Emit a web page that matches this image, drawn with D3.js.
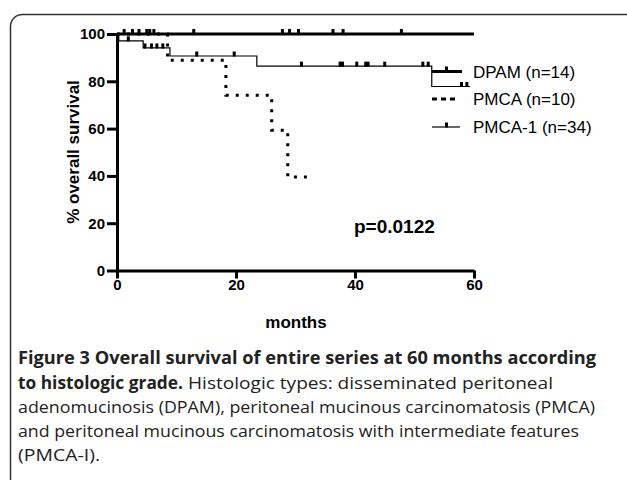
<!DOCTYPE html>
<html><head><meta charset="utf-8">
<script src="https://cdn.jsdelivr.net/npm/d3@7"></script>
<style>body{margin:0;background:#fff}svg{display:block}</style>
</head><body>
<svg id="c" width="627" height="480"></svg>
<script>
// ---- data ----
const xTicks = [0, 20, 40, 60];
const yTicks = [0, 20, 40, 60, 80, 100];
const dpamTimes = [0, 60];
const dpamSurv = [100, 100];
const dpamCensor = [1.2, 2.6, 3.7, 5.0, 5.5, 6.2, 12.9, 27.8, 29.0, 30.5, 36.3, 38.0, 47.8];
const pmcaTimes = [0, 8.5, 18.3, 26.0, 28.7, 32.7];
const pmcaSurv = [100, 88.9, 74.1, 59.3, 39.5, 39.5];
const pmca1Times = [0, 0.3, 4.4, 8.9, 23.5, 52.9, 59.3];
const pmca1Surv = [100, 97.1, 94.1, 90.7, 86.4, 77.8, 77.8];
const pmca1Censor = [1.9, 4.7, 5.8, 6.7, 7.7, 13.4, 19.7, 31.0, 37.5, 37.9, 40.3, 41.8, 42.2, 45.0, 51.4, 52.3, 57.9, 58.8];
const legendLabels = ["DPAM (n=14)", "PMCA (n=10)", "PMCA-1 (n=34)"];
const pValue = "p=0.0122";
const xTitle = "months";
const yTitle = "% overall survival";
const captionBold1 = "Figure 3 Overall survival of entire series at 60 months according";
const captionBold2 = "to histologic grade.";
const captionRest2 = "Histologic types: disseminated peritoneal";
const captionLines = ["adenomucinosis (DPAM), peritoneal mucinous carcinomatosis (PMCA)",
  "and peritoneal mucinous carcinomatosis with intermediate features",
  "(PMCA-I)."];

const svg = d3.select("#c");
// frame
svg.append("rect").attr("x", 10.5).attr("y", 14.5).attr("width", 700).attr("height", 700)
  .attr("rx", 12).attr("fill", "none").attr("stroke", "#333").attr("stroke-width", 1.5);

const x = d3.scaleLinear().domain([0, 60]).range([117, 474]);
const y = d3.scaleLinear().domain([0, 100]).range([270.5, 34]);
const F = "Liberation Sans, Arial, Helvetica, sans-serif";

// axes
const gy = svg.append("g").attr("transform", `translate(${x(0)},0)`)
  .call(d3.axisLeft(y).tickValues(yTicks).tickSize(10).tickSizeOuter(0).tickPadding(2));
const gx = svg.append("g").attr("transform", `translate(0,${y(0)})`)
  .call(d3.axisBottom(x).tickValues(xTicks).tickSize(8).tickSizeOuter(0).tickPadding(1));
[gx, gy].forEach(g => {
  g.selectAll("path,line").attr("stroke", "#000").attr("stroke-width", 3);
  g.selectAll("text").attr("font-family", F).attr("font-weight", "bold").attr("font-size", 15).attr("fill", "#000");
});

const step = d3.line().x(d => x(d[0])).y(d => y(d[1])).curve(d3.curveStepAfter);
const zip = (a, b) => a.map((v, i) => [v, b[i]]);
function survAt(times, surv, t) { let s = surv[0]; for (let i = 0; i < times.length; i++) if (times[i] <= t) s = surv[i]; return s; }

// DPAM
svg.append("path").attr("d", step(zip(dpamTimes, dpamSurv))).attr("fill", "none").attr("stroke", "#000").attr("stroke-width", 3);
svg.selectAll(".cd").data(dpamCensor).enter().append("rect")
  .attr("x", d => x(d) - 1.5).attr("y", d => y(survAt(dpamTimes, dpamSurv, d)) - 5).attr("width", 3).attr("height", 5).attr("fill", "#000");
// PMCA
svg.append("path").attr("d", step(zip(pmcaTimes, pmcaSurv))).attr("fill", "none").attr("stroke", "#000")
  .attr("stroke-width", 3).attr("stroke-dasharray", "3,7");
// PMCA-1
svg.append("path").attr("d", step(zip(pmca1Times, pmca1Surv))).attr("fill", "none").attr("stroke", "#000").attr("stroke-width", 1.2);
svg.selectAll(".c1").data(pmca1Censor).enter().append("rect")
  .attr("x", d => x(d) - 1.5).attr("y", d => y(survAt(pmca1Times, pmca1Surv, d)) - 4.5).attr("width", 3).attr("height", 5).attr("fill", "#000");

// legend
const ly = [71.5, 99, 127];
const lx0 = 432, lx1 = 462;
svg.append("line").attr("x1", lx0).attr("x2", lx1).attr("y1", ly[0]).attr("y2", ly[0]).attr("stroke", "#000").attr("stroke-width", 3);
svg.append("rect").attr("x", 445).attr("y", ly[0] - 5).attr("width", 3).attr("height", 5).attr("fill", "#000");
svg.append("line").attr("x1", lx0).attr("x2", lx1 - 4).attr("y1", ly[1]).attr("y2", ly[1]).attr("stroke", "#000").attr("stroke-width", 3).attr("stroke-dasharray", "5,4");
svg.append("line").attr("x1", lx0).attr("x2", lx1 - 2).attr("y1", ly[2]).attr("y2", ly[2]).attr("stroke", "#000").attr("stroke-width", 1.2);
svg.append("rect").attr("x", 445).attr("y", ly[2] - 4.5).attr("width", 3).attr("height", 5).attr("fill", "#000");
legendLabels.forEach((t, i) => {
  svg.append("text").attr("x", 473).attr("y", ly[i] + 6).attr("font-family", F).attr("font-size", 17).attr("fill", "#000").text(t);
});

// p value
svg.append("text").attr("x", 354).attr("y", 233).attr("font-family", F).attr("font-weight", "bold").attr("font-size", 19).attr("fill", "#000").text(pValue);
// axis titles
svg.append("text").attr("x", 296).attr("y", 328).attr("text-anchor", "middle").attr("font-family", F).attr("font-weight", "bold").attr("font-size", 17).attr("fill", "#000").text(xTitle);
svg.append("text").attr("transform", "translate(79,152) rotate(-90)").attr("text-anchor", "middle").attr("font-family", F).attr("font-weight", "bold").attr("font-size", 17).attr("fill", "#000").text(yTitle);

// caption
const CF = "Open Sans, Noto Sans, sans-serif";
function cap(txt, xx, yy, len, bold) {
  svg.append("text").attr("x", xx).attr("y", yy).attr("font-family", CF).attr("font-size", 17)
    .attr("font-weight", bold ? "bold" : "normal").attr("fill", "#222")
    .attr("textLength", len).attr("lengthAdjust", "spacingAndGlyphs").text(txt);
}
cap(captionBold1, 18, 364, 578, true);
cap(captionBold2, 18, 389, 165, true);
cap(captionRest2, 188, 389, 365, false);
cap(captionLines[0], 18, 413, 577, false);
cap(captionLines[1], 18, 437, 561, false);
cap(captionLines[2], 18, 461, 82, false);
</script>
</body></html>
